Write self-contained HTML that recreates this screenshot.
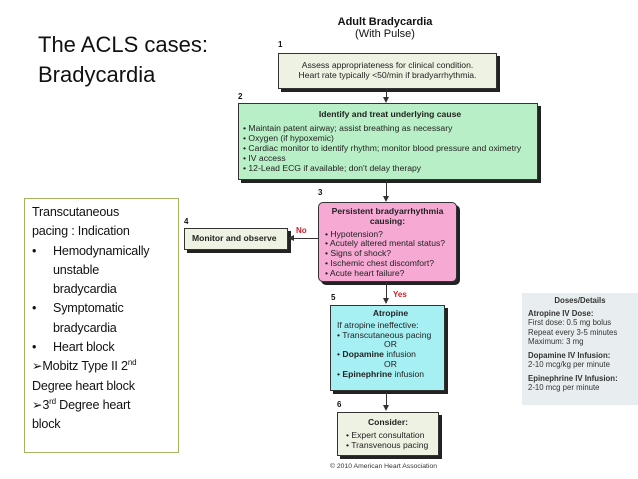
<!DOCTYPE html>
<html><head><meta charset="utf-8"><style>
body{margin:0;width:638px;height:479px;background:#fff;position:relative;overflow:hidden;font-family:"Liberation Sans",sans-serif;}
.a{position:absolute}
.box{position:absolute;border:1px solid #333;box-shadow:3px 3px 0 #222;box-sizing:border-box;font-size:8.6px;color:#222;line-height:9.8px;white-space:nowrap}
.n{position:absolute;font-size:8px;font-weight:bold;color:#111}
.vl{position:absolute;width:1px;background:#333}
.ad{position:absolute;width:0;height:0;border-left:3px solid transparent;border-right:3px solid transparent;border-top:6px solid #333}
ul{margin:0;padding:0;list-style:none}
li:before{content:"• "}
.lt{position:absolute;left:24px;top:198px;width:155px;height:255px;border:1.5px solid #a3b55e;box-sizing:border-box;font-size:12.6px;line-height:19.3px;color:#111;padding:4px 0 0 7px;white-space:nowrap;letter-spacing:-0.2px}
.lt .b{padding-left:21px}
.lt .b span{position:absolute;left:7px}
</style></head><body>
<div class="a" style="left:38px;top:30px;font-size:22px;line-height:30px;color:#111">The ACLS cases:<br>Bradycardia</div>

<div class="a" style="left:300px;top:16px;width:170px;text-align:center;font-size:11px;line-height:12px;color:#111"><b>Adult Bradycardia</b><br>(With Pulse)</div>

<div class="n" style="left:278px;top:40px">1</div>
<div class="box" style="left:278px;top:53px;width:219px;height:36px;background:#eef2e2;text-align:center;padding-top:7px">Assess appropriateness for clinical condition.<br>Heart rate typically &lt;50/min if bradyarrhythmia.</div>
<div class="vl" style="left:386px;top:89px;height:10px"></div><div class="ad" style="left:383px;top:97px"></div>

<div class="n" style="left:238px;top:92px">2</div>
<div class="box" style="left:238px;top:103px;width:300px;height:77px;background:#b9efc6;padding:5px 0 0 4px;overflow:hidden;line-height:10px">
<div style="text-align:center;font-weight:bold;padding-bottom:4px">Identify and treat underlying cause</div>
<ul><li>Maintain patent airway; assist breathing as necessary</li><li>Oxygen (if hypoxemic)</li><li>Cardiac monitor to identify rhythm; monitor blood pressure and oximetry</li><li>IV access</li><li>12-Lead ECG if available; don't delay therapy</li></ul></div>
<div class="vl" style="left:386px;top:180px;height:16px"></div><div class="ad" style="left:383px;top:196px"></div>

<div class="n" style="left:318px;top:188px">3</div>
<div class="box" style="left:318px;top:202px;width:139px;height:80px;background:#f5a9d3;border-radius:5px;padding:4px 0 0 6px">
<div style="text-align:center;font-weight:bold;padding-right:6px">Persistent bradyarrhythmia<br>causing:</div>
<ul style="margin-top:3px"><li>Hypotension?</li><li>Acutely altered mental status?</li><li>Signs of shock?</li><li>Ischemic chest discomfort?</li><li>Acute heart failure?</li></ul></div>

<div class="n" style="left:184px;top:217px">4</div>
<div class="box" style="left:184px;top:228px;width:104px;height:22px;background:#eef2e2;font-weight:bold;padding:5px 0 0 7px">Monitor and observe</div>
<div class="a" style="left:293px;top:238px;width:25px;height:1px;background:#333"></div>
<div class="a" style="left:288px;top:235px;border-top:3px solid transparent;border-bottom:3px solid transparent;border-right:6px solid #333"></div>
<div class="a" style="left:296px;top:226px;font-size:8px;font-weight:bold;color:#d0202a">No</div>

<div class="vl" style="left:386px;top:282px;height:17px"></div><div class="ad" style="left:383px;top:298px"></div>
<div class="a" style="left:393px;top:290px;font-size:8px;font-weight:bold;color:#d0202a">Yes</div>

<div class="n" style="left:331px;top:293px">5</div>
<div class="box" style="left:330px;top:305px;width:115px;height:86px;background:#a6f0f4;padding:3px 0 0 6px">
<div style="text-align:center;font-weight:bold;padding-bottom:2px">Atropine</div>
If atropine ineffective:<br>• Transcutaneous pacing<br><div style="text-align:center">OR</div>• <b>Dopamine</b> infusion<br><div style="text-align:center">OR</div>• <b>Epinephrine</b> infusion</div>
<div class="vl" style="left:386px;top:391px;height:15px"></div><div class="ad" style="left:383px;top:405px"></div>

<div class="n" style="left:337px;top:400px">6</div>
<div class="box" style="left:337px;top:412px;width:102px;height:44px;background:#eef2e2;padding:5px 0 0 8px">
<div style="text-align:center;font-weight:bold;padding:0 8px 3px 0">Consider:</div>
<ul><li>Expert consultation</li><li>Transvenous pacing</li></ul></div>
<div class="a" style="left:330px;top:463px;font-size:6.8px;color:#333">© 2010 American Heart Association</div>

<div class="a" style="left:522px;top:293px;width:116px;height:112px;background:#e8eef0;font-size:7.8px;line-height:9.5px;color:#333;padding:3px 0 0 6px;box-sizing:border-box;white-space:nowrap">
<div style="text-align:center;font-weight:bold;padding:0 6px 3px 0">Doses/Details</div>
<b>Atropine IV Dose:</b><br>First dose: 0.5 mg bolus<br>Repeat every 3-5 minutes<br>Maximum: 3 mg
<div style="height:4px"></div><b>Dopamine IV Infusion:</b><br>2-10 mcg/kg per minute
<div style="height:4px"></div><b>Epinephrine IV Infusion:</b><br>2-10 mcg per minute</div>

<div class="lt">
<div>Transcutaneous</div><div>pacing : Indication</div>
<div class="b"><span>•</span>Hemodynamically</div>
<div class="b">unstable</div>
<div class="b">bradycardia</div>
<div class="b"><span>•</span>Symptomatic</div>
<div class="b">bradycardia</div>
<div class="b"><span>•</span>Heart block</div>
<div>➢Mobitz Type II 2<sup style="font-size:8px;line-height:0">nd</sup></div>
<div>Degree heart block</div>
<div>➢3<sup style="font-size:8px;line-height:0">rd</sup> Degree heart</div>
<div>block</div>
</div>
</body></html>
